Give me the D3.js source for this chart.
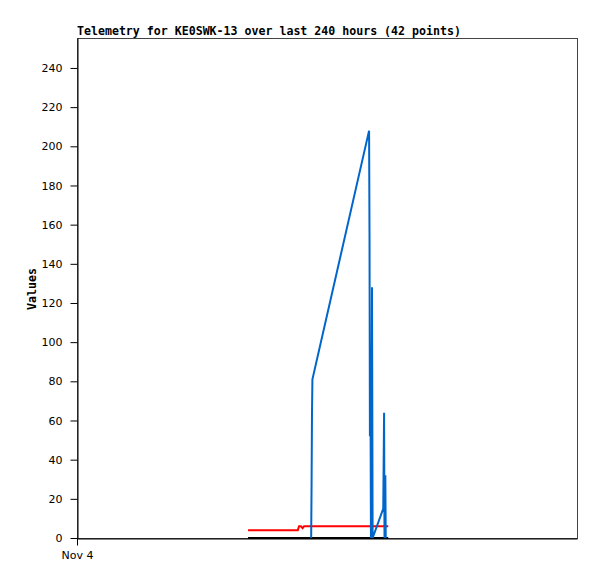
<!DOCTYPE html>
<html>
<head>
<meta charset="utf-8">
<script src="https://cdn.jsdelivr.net/npm/d3@7"></script>
<style>
  body { margin: 0; background: #fff; }
  svg { display: block; }
</style>
</head>
<body>
<svg></svg>
<script>
// hours since Nov 4 00:00
var blueHours = [112.4, 112.6, 112.8, 113.0, 140.2, 140.4, 140.6, 140.9, 141.1, 141.6, 141.9, 147.0, 147.4, 147.6, 148.0, 148.2];
var blueValues = [0, 28, 64, 81, 208, 156, 52, 64, 0, 128, 0, 15, 64, 0, 32, 0];
var redHours = [82.1, 106.0, 106.6, 107.5, 108.3, 109.0, 149.4];
var redValues = [4, 4, 6, 6, 5, 6, 6];
var blackHours = [82.1, 149.4];
var blackValues = [0, 0];
var yTicks = [0, 20, 40, 60, 80, 100, 120, 140, 160, 180, 200, 220, 240];
var xTickHours = [0];
var xTickLabels = ['Nov 4'];

var width = 597, height = 579;
var margin = {top: 38, right: 20, bottom: 41, left: 77};

var svg = d3.select('svg')
    .attr('width', width)
    .attr('height', height);

var x = d3.scaleLinear()
    .domain([0, 240])
    .range([margin.left, width - margin.right]);

var y = d3.scaleLinear()
    .domain([0, 255.3])
    .range([height - margin.bottom, margin.top]);

// frame
svg.append('rect')
    .attr('x', margin.left + 0.5)
    .attr('y', margin.top + 0.5)
    .attr('width', width - margin.right - margin.left)
    .attr('height', height - margin.bottom - margin.top)
    .style('fill', 'none')
    .style('stroke', '#444');

var yAxis = svg.append('g')
    .attr('transform', 'translate(' + (margin.left + 0.5) + ',0)')
    .call(d3.axisLeft(y).tickValues(yTicks).tickSize(7).tickSizeOuter(0).tickPadding(8));

var xAxis = svg.append('g')
    .attr('transform', 'translate(0,' + (height - margin.bottom + 0.5) + ')')
    .call(d3.axisBottom(x).tickValues(xTickHours).tickSize(7).tickSizeOuter(0).tickPadding(6)
        .tickFormat(function (d, i) { return xTickLabels[i]; }));

[yAxis, xAxis].forEach(function (ax) {
    ax.select('.domain').style('stroke', '#000');
    ax.selectAll('.tick line').style('stroke', '#000');
    ax.selectAll('text')
        .style('font-family', 'DejaVu Sans')
        .style('font-size', '11px')
        .style('fill', '#000');
});

var line = d3.line()
    .x(function (d) { return x(d[0]); })
    .y(function (d) { return y(d[1]); });

function drawSeries(hours, values, col) {
    svg.append('path')
        .datum(d3.zip(hours, values))
        .attr('d', line)
        .style('fill', 'none')
        .style('stroke', col)
        .style('stroke-width', 2);
}

drawSeries(redHours, redValues, '#ff0000');
drawSeries(blackHours, blackValues, '#000000');
drawSeries(blueHours, blueValues, '#0066cc');

svg.append('text')
    .attr('x', margin.left)
    .attr('y', 35)
    .text('Telemetry for KE0SWK-13 over last 240 hours (42 points)')
    .style('font-family', 'DejaVu Sans Mono')
    .style('font-weight', 'bold')
    .style('font-size', '11.6px');

svg.append('text')
    .attr('transform', 'translate(36,289) rotate(-90)')
    .attr('text-anchor', 'middle')
    .text('Values')
    .style('font-family', 'DejaVu Sans Mono')
    .style('font-weight', 'bold')
    .style('font-size', '11.6px');
</script>
</body>
</html>
